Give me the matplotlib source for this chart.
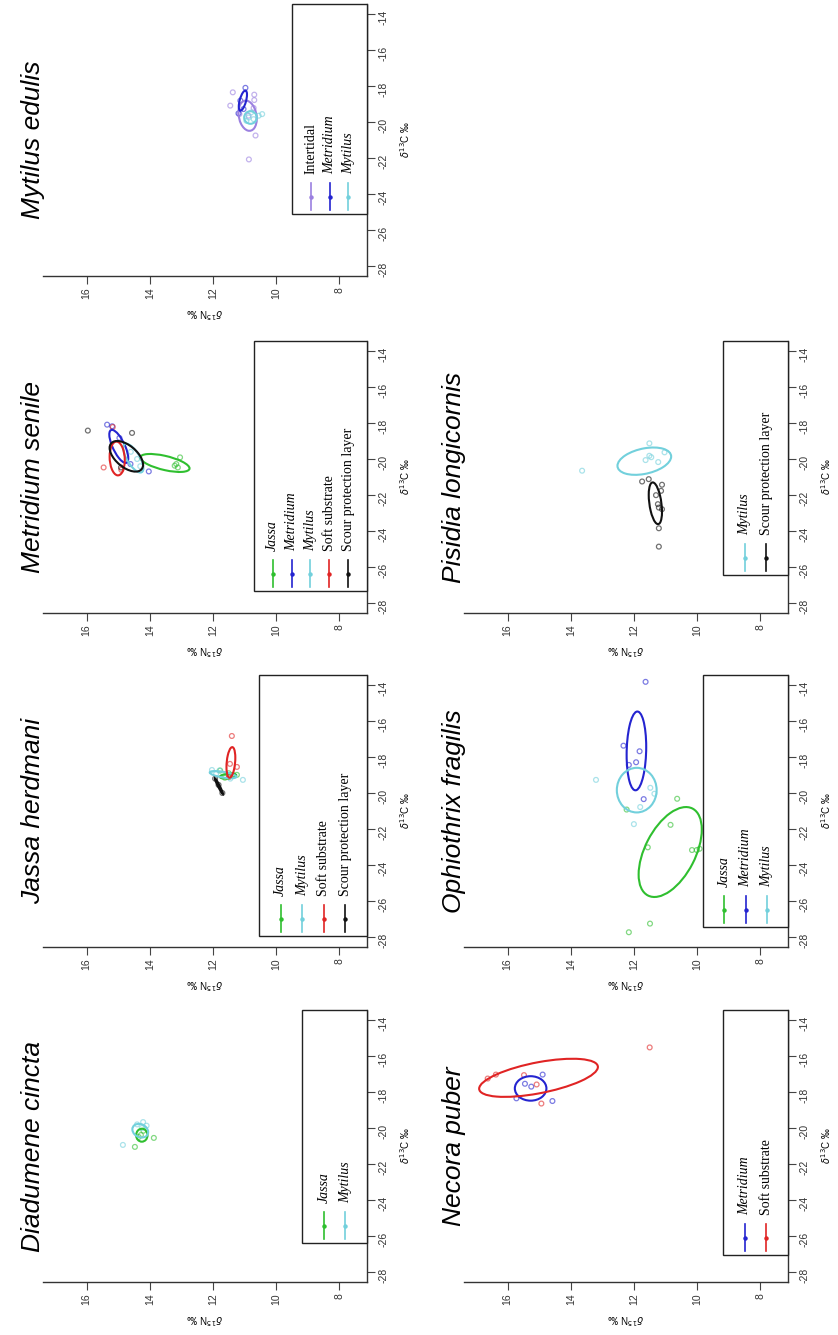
import numpy as np
import matplotlib
matplotlib.use('Agg')
import matplotlib.pyplot as plt
from matplotlib.patches import Ellipse, Rectangle
from matplotlib.transforms import Affine2D

plt.rcParams['axes.unicode_minus'] = False
plt.rcParams['font.family'] = 'Liberation Sans'

colours = {'Jassa': '#2fbf2f', 'Metridium': '#2424d0', 'Mytilus': '#72d0dc',
           'Soft substrate': '#e02424', 'Scour protection layer': '#111111',
           'Intertidal': '#9b80e0'}
italic_groups = ['Jassa', 'Metridium', 'Mytilus']

# ellipse params: [d15N centre, d13C centre, half range N, half range C, correlation]

# Mytilus edulis
myt_groups = ['Intertidal', 'Metridium', 'Mytilus']
myt_n = [[11.37, 11.45, 10.69, 10.69, 11.16, 10.65, 10.86, 10.71, 10.87],
         [10.97, 11.13, 11.19, 11.03],
         [10.87, 10.71, 10.55, 10.44, 10.94, 10.79]]
myt_c = [[-18.35, -19.09, -18.48, -18.78, -19.56, -20.75, -22.08, -19.22, -19.65],
         [-18.10, -18.81, -19.52, -19.28],
         [-19.75, -19.84, -19.65, -19.56, -19.93, -19.47]]
myt_ell = [[10.90, -19.65, 0.29, 0.84, 0.2],
           [11.05, -18.81, 0.13, 0.56, -0.6],
           [10.81, -19.75, 0.20, 0.35, 0.0]]

# Metridium senile
met_groups = ['Jassa', 'Metridium', 'Mytilus', 'Soft substrate', 'Scour protection layer']
met_n = [[13.04, 13.16, 13.11, 13.21],
         [15.35, 15.19, 14.96, 14.61, 14.03],
         [14.60, 14.40, 14.30],
         [15.17, 15.46, 14.90],
         [15.96, 14.56, 14.91]]
met_c = [[-19.91, -20.28, -20.47, -20.37],
         [-18.09, -18.18, -18.83, -20.28, -20.69],
         [-19.60, -20.00, -20.40],
         [-18.22, -20.47, -20.60],
         [-18.42, -18.55, -20.47]]
met_ell = [[13.52, -20.22, 0.78, 0.50, 0.6],
           [14.98, -19.30, 0.30, 0.92, 0.72],
           [14.52, -19.95, 0.32, 0.80, 0.7],
           [15.03, -19.97, 0.24, 0.94, 0.1],
           [14.74, -19.85, 0.53, 0.85, 0.55]]

# Jassa herdmani
jas_groups = ['Jassa', 'Mytilus', 'Soft substrate', 'Scour protection layer']
jas_n = [[11.77, 11.24, 11.36, 11.50, 11.62],
         [12.03, 11.05, 11.79, 11.90, 11.45],
         [11.40, 11.46, 11.24, 11.49],
         [11.93, 11.70, 11.82]]
jas_c = [[-18.75, -18.99, -19.00, -18.90, -19.15],
         [-18.72, -19.27, -18.75, -18.95, -19.20],
         [-16.83, -18.38, -18.55, -19.10],
         [-19.20, -20.00, -19.55]]
jas_ell = [[11.52, -19.06, 0.26, 0.14, -0.3],
           [11.68, -18.98, 0.42, 0.20, 0.6],
           [11.43, -18.30, 0.14, 0.85, -0.3],
           [11.81, -19.62, 0.13, 0.44, 0.97]]

# Diadumene cincta
dia_groups = ['Jassa', 'Mytilus']
dia_n = [[14.47, 13.87, 14.28, 14.35, 14.20],
         [14.85, 14.21, 14.10, 14.40, 14.25]]
dia_c = [[-21.05, -20.55, -20.39, -20.50, -20.15],
         [-20.94, -19.67, -19.87, -19.80, -20.00]]
dia_ell = [[14.25, -20.40, 0.18, 0.36, 0.0],
           [14.30, -20.15, 0.25, 0.38, 0.2]]

# Pisidia longicornis
pis_groups = ['Mytilus', 'Scour protection layer']
pis_n = [[13.64, 11.51, 11.63, 11.51, 11.23, 11.03, 11.45],
         [11.74, 11.53, 11.11, 11.14, 11.30, 11.24, 11.21, 11.11, 11.21, 11.21]]
pis_c = [[-20.65, -19.13, -20.06, -19.82, -20.17, -19.63, -19.90],
         [-21.25, -21.12, -21.43, -21.77, -22.01, -22.51, -22.70, -22.79, -23.85, -24.87]]
pis_ell = [[11.67, -20.12, 0.85, 0.76, -0.34],
           [11.32, -22.46, 0.21, 1.16, 0.4]]

# Ophiothrix fragilis
oph_groups = ['Jassa', 'Metridium', 'Mytilus']
oph_n = [[10.63, 10.84, 11.56, 10.16, 10.01, 9.92, 11.49, 12.16, 12.23],
         [11.63, 12.33, 11.82, 12.16, 11.93, 11.69],
         [13.20, 11.48, 11.35, 11.80, 12.00]]
oph_c = [[-20.32, -21.77, -23.02, -23.17, -23.17, -23.10, -27.26, -27.74, -20.92],
         [-13.82, -17.37, -17.68, -18.44, -18.29, -20.34],
         [-19.27, -19.71, -20.04, -20.78, -21.73]]
oph_ell = [[10.85, -23.28, 1.00, 2.50, -0.5],
           [11.92, -17.66, 0.31, 2.19, -0.1],
           [11.91, -19.84, 0.63, 1.24, 0.0]]

# Necora puber
nec_groups = ['Metridium', 'Soft substrate']
nec_n = [[14.89, 15.45, 15.72, 14.58, 15.25],
         [11.50, 16.63, 16.37, 15.48, 15.08, 14.93]]
nec_c = [[-17.03, -17.54, -18.35, -18.50, -17.70],
         [-15.52, -17.25, -17.03, -17.06, -17.58, -18.64]]
nec_ell = [[15.27, -17.80, 0.50, 0.68, 0.0],
           [15.02, -17.21, 1.88, 1.06, -0.57]]

W, H = 838, 1335
fig = plt.figure(figsize=(W / 100, H / 100), dpi=100)

col_left = [43, 464]
row_top = [4, 341, 675, 1010]
ax_w, ax_h = 324, 272

# title, col, row, groups, N, C, ellipses, legend box (left, bottom) in axes fraction
panels = [
    ('Mytilus edulis', 0, 0, myt_groups, myt_n, myt_c, myt_ell, (0.769, 0.229)),
    ('Metridium senile', 0, 1, met_groups, met_n, met_c, met_ell, (0.651, 0.081)),
    ('Jassa herdmani', 0, 2, jas_groups, jas_n, jas_c, jas_ell, (0.667, 0.040)),
    ('Diadumene cincta', 0, 3, dia_groups, dia_n, dia_c, dia_ell, (0.800, 0.143)),
    ('Pisidia longicornis', 1, 1, pis_groups, pis_n, pis_c, pis_ell, (0.800, 0.140)),
    ('Ophiothrix fragilis', 1, 2, oph_groups, oph_n, oph_c, oph_ell, (0.738, 0.074)),
    ('Necora puber', 1, 3, nec_groups, nec_n, nec_c, nec_ell, (0.800, 0.100)),
]


def draw_legend(ax, groups, left, bottom):
    ax.add_patch(Rectangle((left, bottom), 1 - left, 1 - bottom, transform=ax.transAxes,
                           facecolor='white', edgecolor='#222222', lw=1.0,
                           clip_on=False, zorder=4))
    n = len(groups)
    step = (1 - left) / (n + 1)
    py = 1.0 / ax_h
    for i, g in enumerate(groups):
        x = left + (i + 1) * step
        ax.plot([x, x], [bottom + 4 * py, bottom + 31 * py], color=colours[g], lw=1.2,
                transform=ax.transAxes, clip_on=False, zorder=5)
        ax.plot([x], [bottom + 17 * py], 'o', ms=2.2, color=colours[g],
                transform=ax.transAxes, clip_on=False, zorder=5)
        ax.text(x, bottom + 40 * py, g, rotation=90, ha='center', va='bottom',
                transform=ax.transAxes, fontsize=10, family='Liberation Serif',
                style='italic' if g in italic_groups else 'normal', zorder=6)


for title, col, row, groups, d15n, d13c, ells, leg in panels:
    ax = fig.add_axes([col_left[col] / W, 1 - (row_top[row] + ax_h) / H, ax_w / W, ax_h / H])
    ax.set_xlim(17.38, 7.12)
    ax.set_ylim(-28.56, -13.44)
    for s in ['top', 'left']:
        ax.spines[s].set_visible(False)
    for s in ['bottom', 'right']:
        ax.spines[s].set_color('#333333')
        ax.spines[s].set_linewidth(1.0)
    ax.yaxis.tick_right()
    ax.set_xticks([16, 14, 12, 10, 8])
    ax.set_yticks([-28, -26, -24, -22, -20, -18, -16, -14])
    ax.tick_params(axis='both', labelsize=7.5, length=6, width=0.8, color='#444444',
                   labelcolor='#333333', labelrotation=90, pad=2)

    ax.set_xlabel(r'$\delta^{15}$N ‰', rotation=180, fontsize=7, va='center')
    ax.xaxis.set_label_coords(0.5, -37 / ax_h)
    ax.yaxis.set_label_position('right')
    ax.set_ylabel(r'$\delta^{13}$C ‰', rotation=90, fontsize=7, va='center', ha='center')
    ax.yaxis.set_label_coords(1 + 38 / ax_w, 0.5)

    for g, xs, ys, e in zip(groups, d15n, d13c, ells):
        ax.scatter(xs, ys, s=12, facecolors='none', edgecolors=colours[g],
                   linewidths=0.9, alpha=0.6, zorder=2)
        n0, c0, an, ac, r = e
        m = np.array([[an, 0, n0], [ac * r, ac * np.sqrt(1 - r * r), c0], [0, 0, 1]])
        ax.add_patch(Ellipse((0, 0), 2, 2, fill=False, edgecolor=colours[g], lw=1.5,
                             transform=Affine2D(m) + ax.transData, zorder=3))

    draw_legend(ax, groups, *leg)
    ax.text(-10 / ax_w, 0.5, title, rotation=90, ha='center', va='center', fontsize=19,
            style='italic', transform=ax.transAxes)

fig.savefig('out.png', dpi=100, facecolor='white')
